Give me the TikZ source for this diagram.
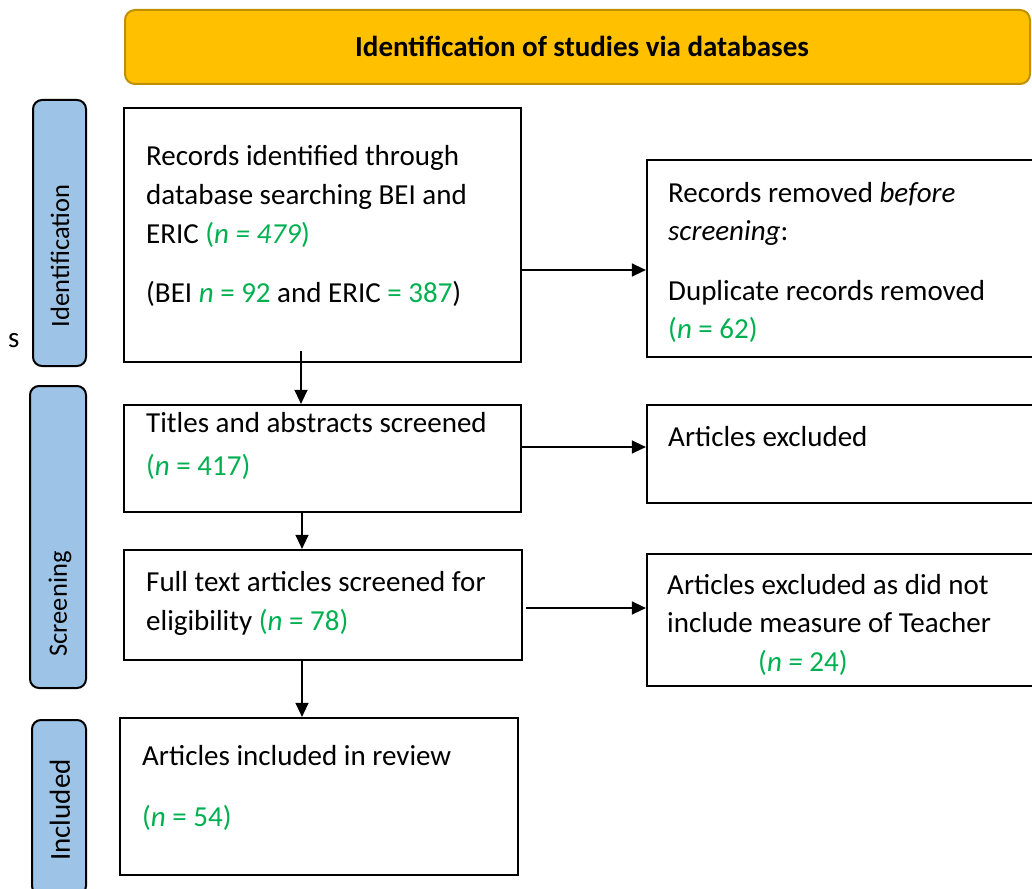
\documentclass[tikz,border=0pt]{standalone}
\usepackage{fontspec}
\setmainfont{Carlito}
\usetikzlibrary{arrows.meta,positioning}
\definecolor{ngreen}{HTML}{00B050}
\definecolor{titlefill}{HTML}{FFC000}
\definecolor{titledraw}{HTML}{BF9000}
\definecolor{sidefill}{HTML}{9DC3E6}
\newcommand{\gr}[1]{\textcolor{ngreen}{#1}}
\tikzset{
  box/.style={draw=black, line width=2.2pt, rectangle, inner sep=0pt},
  sidebox/.style={draw=black, line width=2pt, fill=sidefill, rounded corners=9pt, inner sep=0pt},
  txt/.style={anchor=base west, inner sep=0pt, font=\fontsize{29}{39}\selectfont},
  sidetxt/.style={rotate=90, inner sep=0pt, font=\fontsize{26.5}{31}\selectfont},
  arr/.style={line width=1.3pt, -{Triangle[length=14pt,width=13pt]}}
}
\begin{document}
\begin{tikzpicture}[x=1pt,y=-1pt]
\useasboundingbox (0,0) rectangle (1032,888);
\clip (0,0) rectangle (1032,888);
% title
\draw[fill=titlefill, draw=titledraw, line width=2pt, rounded corners=10pt] (125,10) rectangle (1030,84);
\node[inner sep=0pt, font=\fontsize{29}{30}\selectfont\bfseries] (title) at (582,46) {Identification of studies via databases};
% side labels
\draw[sidebox] (33,100) rectangle (86,366);
\node[sidetxt] (sid) at (60,256) {Identification};
\draw[sidebox] (30,386) rectangle (86,688);
\node[sidetxt] (ssc) at (60,604) {Screening};
\draw[sidebox] (32,720) rectangle (86,895);
\node[sidetxt, font=\fontsize{29}{31}\selectfont] (sin) at (60,810) {Included};
\node[txt] (s) at (8,347) {s};
% main boxes
\node[box, minimum width=397pt, minimum height=254pt] (b1) at (322.5,235) {};
\node[box, minimum width=397pt, minimum height=197pt] (b2) at (845.5,258.5) {};
\node[box, minimum width=397pt, minimum height=107pt] (b3) at (322.5,458.5) {};
\node[box, minimum width=397pt, minimum height=98pt] (b4) at (845.5,454) {};
\node[box, minimum width=398pt, minimum height=110pt] (b5) at (323,605) {};
\node[box, minimum width=397pt, minimum height=132pt] (b6) at (845.5,620) {};
\node[box, minimum width=398pt, minimum height=157pt] (b7) at (319,796.5) {};
% texts
\node[txt] (t1a) at (146,165) {Records identified through};
\node[txt] (t1b) at (146,204) {database searching BEI and};
\node[txt] (t1c) at (146,243) {ERIC \gr{(\textit{n = 479})}};
\node[txt] (t1d) at (146,302) {(BEI \gr{\textit{n} = 92} and ERIC \gr{= 387})};
\node[txt] (t2a) at (668,202) {Records removed \textit{before}};
\node[txt] (t2b) at (668,240) {\textit{screening}:};
\node[txt] (t2c) at (668,300) {Duplicate records removed};
\node[txt] (t2d) at (668,338) {\gr{(\textit{n} = 62)}};
\node[txt] (t3a) at (146,432) {Titles and abstracts screened};
\node[txt] (t3b) at (146,475) {\gr{(\textit{n} = 417)}};
\node[txt] (t4a) at (668,446) {Articles excluded};
\node[txt] (t5a) at (146,591) {Full text articles screened for};
\node[txt] (t5b) at (146,630) {eligibility \gr{(\textit{n} = 78)}};
\node[txt] (t6a) at (667,594) {Articles excluded as did not};
\node[txt] (t6b) at (667,632) {include measure of Teacher};
\node[txt] (t6c) at (758,671) {\gr{(\textit{n = }24)}};
\node[txt] (t7a) at (142,765) {Articles included in review};
\node[txt] (t7b) at (142,826) {\gr{(\textit{n} = 54)}};
% connectors
\draw[arr] (b1.east |- 0,270) -- (b2.west |- 0,270);
\draw[arr] ([yshift=12pt]b1.south -| 301,0) -- (b3.north -| 301,0);
\draw[arr] (b3.east |- 0,447) -- (b4.west |- 0,447);
\draw[arr] (b3.south -| 302,0) -- (b5.north -| 302,0);
\draw[arr] ([xshift=3pt]b5.east |- 0,608) -- (b6.west |- 0,608);
\draw[arr] (b5.south -| 302,0) -- (b7.north -| 302,0);
\end{tikzpicture}
\end{document}
